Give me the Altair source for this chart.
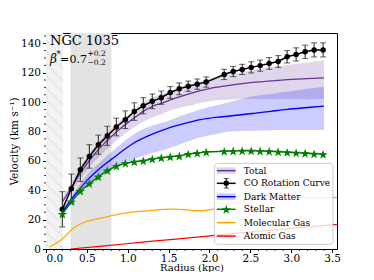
import math
import altair as alt
import pandas as pd

# ---------------- data ----------------
r_co = [0.20, 0.31, 0.42, 0.53, 0.64, 0.75, 0.86, 0.97, 1.08, 1.19, 1.30, 1.41, 1.52, 1.63, 1.74, 1.85, 1.96,
        2.18, 2.29, 2.40, 2.51, 2.62, 2.73, 2.84, 2.95, 3.06, 3.17, 3.28, 3.39]
v_co = [27, 41, 54, 63, 71, 77, 83, 88, 93.5, 97.5, 100.5, 103, 106.5, 109, 110.8, 112.2, 113.6,
        118.8, 120.8, 122.2, 123.6, 124.8, 126.3, 127.6, 130.8, 132.4, 134.2, 135.5, 135.5]
e_co = [12, 10, 8, 8, 6.5, 6.5, 6, 6, 6, 5.5, 5, 4.5, 4, 4, 3.5, 3.5, 3.5,
        3.5, 3.5, 3.5, 3.8, 3.8, 4, 4, 4.2, 4.5, 4.5, 4.8, 4.8]
v_stellar = [23.8, 32.2, 39.5, 44.5, 49.2, 53.3, 56.5, 58.3, 59.4, 60.0, 61.2, 62.1, 62.8, 63.3, 64.6, 65.3, 66.0,
             66.5, 66.7, 66.8, 66.8, 66.7, 66.5, 66.2, 65.8, 65.5, 65.2, 64.8, 64.5]

r_total = [0.2, 0.3, 0.4, 0.5, 0.6, 0.7, 0.8, 0.9, 1.0, 1.1, 1.2, 1.3, 1.4, 1.5, 1.6, 1.7, 1.8, 1.9, 2.0,
           2.2, 2.4, 2.6, 2.8, 3.0, 3.2, 3.4]
v_total = [32, 41, 50, 58, 65, 71, 76.5, 81.5, 86, 90, 94, 97, 99, 101, 103, 104.8, 106.5, 108, 109.2,
           111, 112.5, 113.7, 114.6, 115.4, 116, 116.5]
total_lo = [29, 38, 46, 53.5, 60, 65.5, 71, 75.5, 80, 83.5, 87, 89.5, 91.5, 94, 95.5, 97, 98, 99.5, 100.5,
            101.5, 102, 102, 102, 102, 102, 102]
total_hi = [35, 44, 54, 62.5, 70, 76.5, 82, 87.5, 91, 96, 100, 103, 105.5, 107, 109.5, 111.5, 113, 114.5, 116,
            118.5, 120.5, 122.5, 124, 125.5, 127, 128.5]

r_dm = [0.2, 0.3, 0.4, 0.5, 0.66, 0.8, 1.07, 1.25, 1.48, 1.7, 1.89, 2.1, 2.25, 2.54, 2.75, 2.95, 3.2, 3.4]
v_dm = [25, 33, 40, 46.5, 55, 61, 72, 77, 82, 85.5, 88, 89.7, 90.5, 92.3, 93.7, 95, 96.3, 97.3]
dm_lo = [23, 30.5, 37, 42.5, 50, 54.5, 61, 64.5, 68, 72.5, 76, 78.5, 80, 80.5, 80.8, 81, 81, 81]
dm_hi = [27, 35.5, 43, 50.5, 59, 66, 78, 83, 87, 91.5, 95, 98, 100, 104, 105.5, 107, 109, 110.4]

r_mol = [0.05, 0.21, 0.33, 0.46, 0.62, 0.78, 0.95, 1.11, 1.27, 1.44, 1.56, 1.68, 1.85, 1.97, 2.13, 2.34, 2.54,
         2.87, 3.28, 3.60]
v_mol = [1.5, 7.3, 14, 18, 20.4, 22.4, 24.3, 25.4, 26.1, 27, 27.2, 26.8, 26.1, 26.5, 28, 32, 34.5,
         35.2, 34.9, 34.9]

r_atom = [0.30, 0.75, 1.15, 1.56, 1.97, 2.30, 2.87, 3.60]
v_atom = [0.0, 2.3, 4.5, 6.6, 8.8, 10.6, 13.4, 17.0]

hatch_span = [0.0, 0.21]
grey_span = [0.30, 0.80]

legend_labels = ["Total", "CO Rotation Curve", "Dark Matter", "Stellar", "Molecular Gas", "Atomic Gas"]
legend_colors = ["#663399", "black", "blue", "green", "orange", "red"]

x_ticks = [0.0, 0.5, 1.0, 1.5, 2.0, 2.5, 3.0, 3.5]
y_ticks = [0, 20, 40, 60, 80, 100, 120, 140]
x_minor = [round(i * 0.1, 1) for i in range(36) if i % 5 != 0]
y_minor = [i * 5 for i in range(30) if i % 4 != 0]

# ---------------- layout ----------------
W, H = 291, 216
XMAX, YMAX = 3.56, 147
FONT = "DejaVu Serif"
xs = alt.Scale(domain=[0, XMAX], nice=False, zero=False)
ys = alt.Scale(domain=[0, YMAX], nice=False, zero=False)
x_axis = alt.Axis(values=x_ticks, format=".1f", title="Radius (kpc)", orient="bottom",
                  titleY=21.5, titleBaseline="alphabetic", titleFontSize=10, labelPadding=1)
y_axis = alt.Axis(values=y_ticks, format="d", title="Velocity (km s⁻¹)", orient="left", titlePadding=1)

# five-pointed star symbol path (unit box -1..1)
_pts = []
for k in range(10):
    rad = 1.0 if k % 2 == 0 else 0.4
    ang = math.radians(-90 + 36 * k)
    _pts.append(f"{rad * math.cos(ang):.3f},{rad * math.sin(ang) + 0.1:.3f}")
STAR = "M" + "L".join(_pts) + "Z"


def X(f):
    return alt.X(f, type="quantitative", scale=xs, axis=x_axis)


def Y(f):
    return alt.Y(f, type="quantitative", scale=ys, axis=y_axis)


co = pd.DataFrame({"r": r_co, "v": v_co, "lo": [a - b for a, b in zip(v_co, e_co)],
                   "hi": [a + b for a, b in zip(v_co, e_co)], "s": v_stellar})
tot = pd.DataFrame({"r": r_total, "v": v_total, "lo": total_lo, "hi": total_hi})
dm = pd.DataFrame({"r": r_dm, "v": v_dm, "lo": dm_lo, "hi": dm_hi})
mol = pd.DataFrame({"r": r_mol, "v": v_mol})
atom = pd.DataFrame({"r": r_atom, "v": v_atom})

# shaded regions
spans = pd.DataFrame({"x0": [hatch_span[0], grey_span[0]], "x1": [hatch_span[1], grey_span[1]],
                      "y0": [0, 0], "y1": [YMAX, YMAX], "c": ["#f2f2f2", "#e3e3e3"]})
span_layer = alt.Chart(spans).mark_rect().encode(
    x=X("x0"), x2="x1:Q", y=Y("y0"), y2="y1:Q", color=alt.Color("c:N", scale=None))

# minor ticks, outside the frame
mx = alt.Chart(pd.DataFrame({"t": x_minor})).mark_rule(color="black", strokeWidth=0.8, clip=False).encode(
    x=X("t"), y=alt.value(H), y2=alt.value(H + 2))
my = alt.Chart(pd.DataFrame({"t": y_minor})).mark_rule(color="black", strokeWidth=0.8, clip=False).encode(
    y=Y("t"), x=alt.value(0), x2=alt.value(-2))

# hatch lines ("\\" pattern) inside the first span, clipped analytically
sx, sy = W / XMAX, H / YMAX
hw = (hatch_span[1] - hatch_span[0]) * sx
hatch_rows = []
c = -hw
while c < H:
    xa = max(0.0, -c)
    xb = min(hw, H - c)
    if xb > xa:
        hatch_rows.append({"x0": hatch_span[0] + xa / sx, "x1": hatch_span[0] + xb / sx,
                           "y0": YMAX - (c + xa) / sy, "y1": YMAX - (c + xb) / sy})
    c += 12
hatch = alt.Chart(pd.DataFrame(hatch_rows)).mark_rule(color="#d4d4d4", strokeWidth=0.8).encode(
    x=X("x0"), x2="x1", y=Y("y0"), y2="y1")

tot_band = alt.Chart(tot).mark_area(color="#663399", opacity=0.2, interpolate="monotone").encode(
    x=X("r"), y=Y("lo"), y2="hi")
dm_band = alt.Chart(dm).mark_area(color="blue", opacity=0.2, interpolate="monotone").encode(
    x=X("r"), y=Y("lo"), y2="hi")
tot_line = alt.Chart(tot).mark_line(color="#663399", strokeWidth=1.3, interpolate="monotone").encode(
    x=X("r"), y=Y("v"))
dm_line = alt.Chart(dm).mark_line(color="blue", strokeWidth=1.3, interpolate="monotone").encode(
    x=X("r"), y=Y("v"))
mol_line = alt.Chart(mol).mark_line(color="orange", strokeWidth=1.2, clip=True, interpolate="monotone").encode(
    x=X("r"), y=Y("v"))
atom_line = alt.Chart(atom).mark_line(color="red", strokeWidth=1.2, clip=True, interpolate="monotone").encode(
    x=X("r"), y=Y("v"))

err_rule = alt.Chart(co).mark_rule(color="#222222", strokeWidth=1).encode(x=X("r"), y=Y("lo"), y2="hi")
err_cap_lo = alt.Chart(co).mark_tick(color="#222222", orient="horizontal", size=6, thickness=1).encode(
    x=X("r"), y=Y("lo"))
err_cap_hi = alt.Chart(co).mark_tick(color="#222222", orient="horizontal", size=6, thickness=1).encode(
    x=X("r"), y=Y("hi"))
co_line = alt.Chart(co).mark_line(color="black", strokeWidth=1.5).encode(x=X("r"), y=Y("v"))
co_pts = alt.Chart(co).mark_point(filled=True, color="black", size=30, opacity=1).encode(x=X("r"), y=Y("v"))
st_line = alt.Chart(co).mark_line(color="green", strokeWidth=1.5).encode(x=X("r"), y=Y("s"))
st_pts = alt.Chart(co).mark_point(filled=True, color="green", shape=STAR, size=95, opacity=1).encode(
    x=X("r"), y=Y("s"))

# ---------------- legend (drawn in data space) ----------------
leg_y = [53.3, 44.7, 35.6, 27.0, 17.9, 8.8]
lx0, lx1, ltx = 2.09, 2.32, 2.42
lmid = (lx0 + lx1) / 2
leg = pd.DataFrame({"label": legend_labels, "color": legend_colors, "y": leg_y,
                    "x0": lx0, "x1": lx1, "xt": ltx, "xm": lmid})
box = alt.Chart(pd.DataFrame({"x0": [2.06], "x1": [3.51], "y0": [3.2], "y1": [58.3]})).mark_rect(
    fill="white", fillOpacity=0.8, stroke="#cccccc", strokeWidth=1, cornerRadius=3).encode(
    x=X("x0"), x2="x1", y=Y("y0"), y2="y1")
leg_band_df = leg[leg["label"].isin(["Total", "Dark Matter"])].assign(
    ylo=lambda d: d["y"] - 2.3, yhi=lambda d: d["y"] + 2.3)
leg_band = alt.Chart(leg_band_df).mark_rect(opacity=0.2).encode(
    x=X("x0"), x2="x1", y=Y("ylo"), y2="yhi", color=alt.Color("color:N", scale=None))
leg_line = alt.Chart(leg).mark_rule(strokeWidth=1.5).encode(
    x=X("x0"), x2="x1", y=Y("y"), color=alt.Color("color:N", scale=None))
leg_co_df = leg[leg["label"] == "CO Rotation Curve"].assign(ylo=lambda d: d["y"] - 3.2,
                                                           yhi=lambda d: d["y"] + 3.2)
leg_co_err = alt.Chart(leg_co_df).mark_rule(color="black").encode(x=X("xm"), y=Y("ylo"), y2="yhi")
leg_co_c1 = alt.Chart(leg_co_df).mark_tick(color="black", orient="horizontal", size=5, thickness=1).encode(
    x=X("xm"), y=Y("ylo"))
leg_co_c2 = alt.Chart(leg_co_df).mark_tick(color="black", orient="horizontal", size=5, thickness=1).encode(
    x=X("xm"), y=Y("yhi"))
leg_co_pt = alt.Chart(leg_co_df).mark_point(filled=True, color="black", size=30, opacity=1).encode(
    x=X("xm"), y=Y("y"))
leg_st_pt = alt.Chart(leg[leg["label"] == "Stellar"]).mark_point(
    filled=True, color="green", shape=STAR, size=95, opacity=1).encode(x=X("xm"), y=Y("y"))
leg_text = alt.Chart(leg).mark_text(align="left", baseline="middle", font=FONT, fontSize=9,
                                    color="black").encode(x=X("xt"), y=Y("y"), text="label:N")


# ---------------- annotations ----------------
def txt(s, x, y, size, style="normal"):
    return alt.Chart(pd.DataFrame({"t": [s]})).mark_text(
        align="left", baseline="alphabetic", font=FONT, fontSize=size, fontStyle=style,
        color="black").encode(x=alt.value(x), y=alt.value(y), text="t:N")


ann = [
    txt("NGC 1035", 4, 12, 13),
    txt("β", 4, 30, 12, "italic"),
    txt("*", 10.5, 24, 8.5),
    txt("=", 14, 30, 11),
    txt("0.7", 23.5, 30, 11),
    txt("+0.2", 41.5, 23, 7.5),
    txt("−0.2", 41.5, 32, 7.5),
]

chart = alt.layer(
    span_layer, hatch, mx, my,
    tot_band, dm_band, tot_line,
    err_rule, err_cap_lo, err_cap_hi, co_line, co_pts,
    dm_line, st_line, st_pts, mol_line, atom_line,
    box, leg_band, leg_line, leg_co_err, leg_co_c1, leg_co_c2, leg_co_pt, leg_st_pt, leg_text,
    *ann,
).properties(
    width=W, height=H, autosize=alt.AutoSizeParams(type="none"),
    padding={"left": 38, "top": 25, "right": 29, "bottom": 23},
).configure_view(stroke="black", strokeWidth=1).configure_axis(
    labelFont=FONT, labelFontSize=10.5, labelColor="black", titleFont=FONT, titleFontSize=10.5,
    titleFontWeight="normal", titleColor="black", tickColor="black", domainColor="black",
    tickSize=3.5, labelPadding=2, grid=False,
)

chart.save("out.html", embed_options={"renderer": "svg", "actions": False})
